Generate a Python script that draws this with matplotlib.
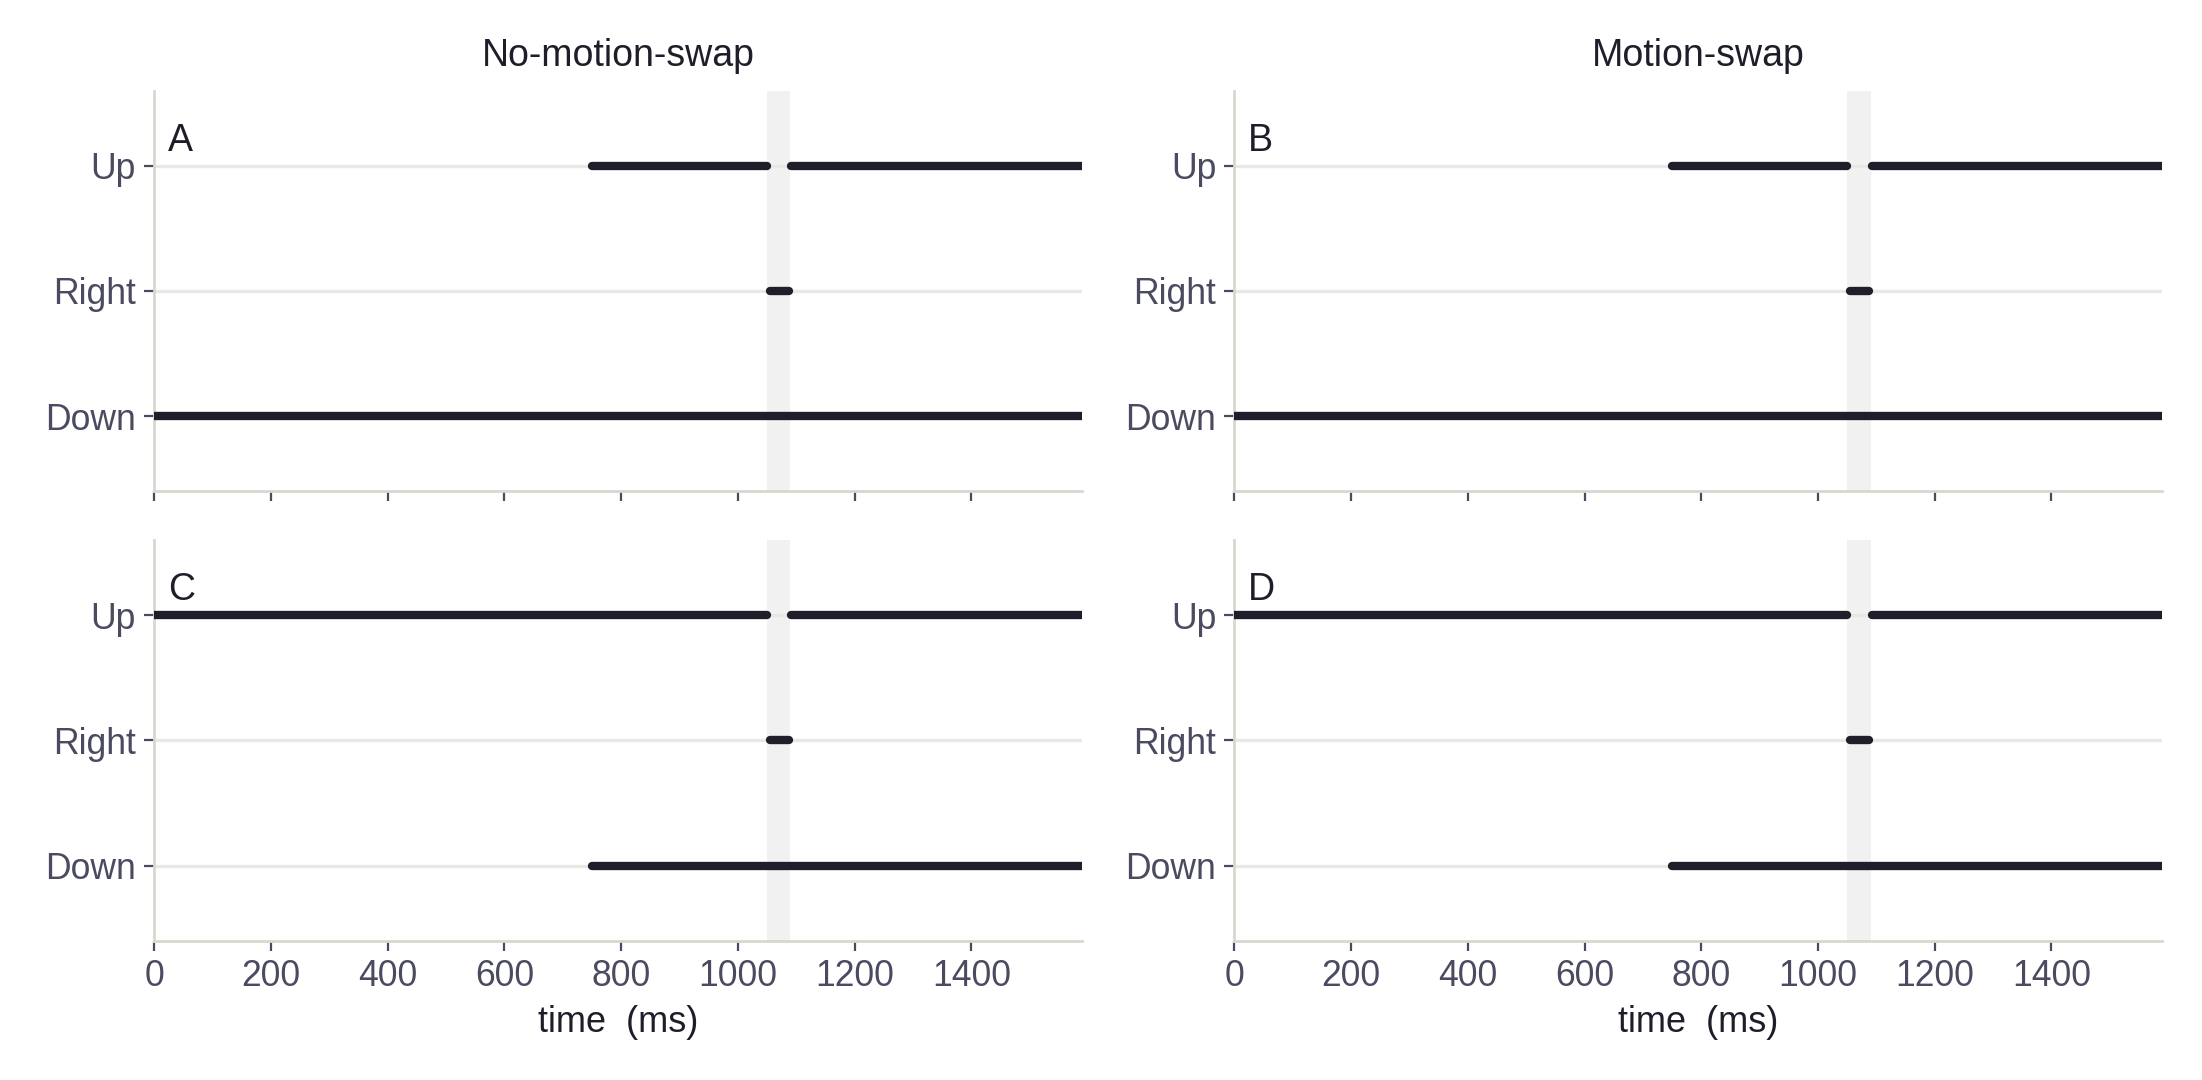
import matplotlib
matplotlib.use("Agg")
from matplotlib import pyplot as plt

plt.rcParams['font.family'] = ['Liberation Sans', 'DejaVu Sans']

# categories, bottom to top
directions = ["Down", "Right", "Up"]
col_titles = ["No-motion-swap", "Motion-swap"]
panel_letters = [["A", "B"], ["C", "D"]]
x_ticks = [0, 200, 400, 600, 800, 1000, 1200, 1400]
x_max = 1590
swap_window = (1050, 1090)

# active periods (ms) for each direction, per row
row1_segments = {
    "Up": [(750, 1050), (1092, 1590)],
    "Right": [(1055, 1088)],
    "Down": [(0, 1590)],
}
row2_segments = {
    "Up": [(0, 1050), (1092, 1590)],
    "Right": [(1055, 1088)],
    "Down": [(750, 1590)],
}
rows = [row1_segments, row2_segments]

LINE = '#1f1f2b'
TICK = '#4a4a60'
SPINE = '#d8d7cf'
GRID = '#e8e8e4'
BAND = '#f1f1f1'

fig, axs = plt.subplots(2, 2, figsize=(11.01, 5.4), dpi=200, sharex=True)
fig.subplots_adjust(left=0.070, right=0.982, top=0.916, bottom=0.129,
                    wspace=0.164, hspace=0.122)

for r in range(2):
    for c in range(2):
        ax = axs[r][c]
        ax.axvspan(*swap_window, color=BAND, lw=0, zorder=0)
        for i, d in enumerate(directions):
            ax.axhline(i, color=GRID, lw=1.2, zorder=1)
            for x0, x1 in rows[r][d]:
                ax.plot([x0, x1], [i, i], color=LINE, lw=3.0,
                        solid_capstyle='round', zorder=3)
        ax.set_xlim(0, x_max)
        ax.set_ylim(-0.6, 2.6)
        ax.set_yticks(range(len(directions)))
        ax.set_yticklabels(directions)
        ax.set_xticks(x_ticks)
        for s in ['top', 'right']:
            ax.spines[s].set_visible(False)
        for s in ['left', 'bottom']:
            ax.spines[s].set_color(SPINE)
            ax.spines[s].set_linewidth(1.0)
        ax.tick_params(axis='both', colors=TICK, labelsize=12.8, length=3.5,
                       width=0.8, pad=3)
        ax.text(0.015, 0.875, panel_letters[r][c], transform=ax.transAxes,
                fontsize=13.5, color='#1e1e2a', va='center', ha='left')
        if r == 0:
            ax.set_title(col_titles[c], fontsize=13.5, color='#1e1e2a', pad=9)
        else:
            ax.set_xlabel("time  (ms)", fontsize=13, color='#1e1e2a', labelpad=4)

fig.savefig("out.png", dpi=200, facecolor='white')
